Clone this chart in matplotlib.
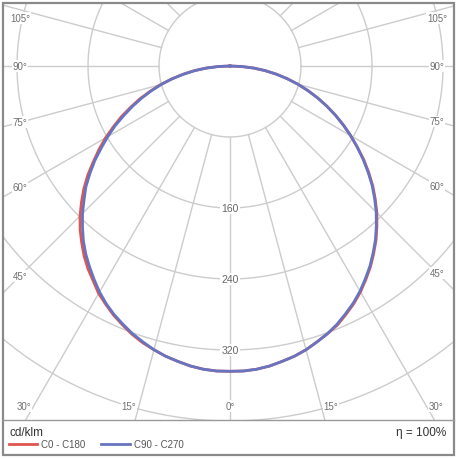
import numpy as np
import matplotlib
matplotlib.use("Agg")
import matplotlib.pyplot as plt
from matplotlib.patches import Rectangle
from matplotlib.lines import Line2D

plt.rcParams['font.family'] = ['Liberation Sans', 'DejaVu Sans']

# luminous intensity (cd/klm) against gamma angle
gamma = [0, 2.5, 5, 7.5, 10, 12.5, 15, 17.5, 20, 22.5, 25, 27.5, 30, 32.5, 35, 37.5, 40, 42.5, 45,
         47.5, 50, 52.5, 55, 57.5, 60, 62.5, 65, 67.5, 70, 72.5, 75, 77.5, 80, 82.5, 85, 87.5, 90]
i_c0 = [344, 344, 343, 341, 338, 335, 331, 326, 321, 316, 309, 302, 294, 285, 276, 266, 256, 245, 234,
        222, 210, 197, 184, 170, 157, 144, 131, 118, 105, 92, 79, 66, 53, 40, 27, 13, 0]
i_c180 = [344, 344, 343, 341, 338, 335, 331, 327, 322, 316, 310, 303, 296, 287, 279, 270, 260, 250, 239,
          227, 215, 202, 188, 175, 162, 148, 135, 121, 108, 94, 81, 67, 54, 41, 27, 13, 0]
i_c90 = [344, 344, 343, 341, 338, 335, 331, 326, 321, 315, 308, 301, 293, 284, 275, 265, 255, 244, 233,
         221, 209, 196, 183, 170, 157, 144, 131, 118, 105, 92, 79, 66, 53, 40, 27, 13, 0]
i_c270 = [344, 344, 343, 341, 338, 335, 331, 326, 321, 315, 309, 302, 294, 285, 276, 267, 257, 246, 235,
          223, 212, 199, 186, 172, 159, 146, 132, 119, 106, 93, 80, 67, 53, 40, 27, 13, 0]

rings = [80, 160, 240, 320, 400, 480]
ring_labels = [160, 240, 320]
angle_left = [105, 90, 75, 60, 45, 30, 15, 0]
angle_right = [15, 30, 45, 60, 75, 90, 105]
series_names = ['C0 - C180', 'C90 - C270']
colors = ['#e0564f', '#6674c2']
eta = 'η = 100%'
unit = 'cd/klm'

W = 460
fig = plt.figure(figsize=(4.6, 4.6), dpi=100)
# plot box in pixels: x 3..454, y 4..421 (from top)
ax = fig.add_axes([3 / W, (W - 421) / W, 451 / W, 417 / W])
scale = 0.8875  # px per cd/klm
ax.set_xlim(-227 / scale, 224 / scale)
ax.set_ylim(-354 / scale, 63 / scale)
ax.axis('off')

grid_c = '#cccccc'
t = np.linspace(0, 2 * np.pi, 400)
for r in rings:
    ax.plot(r * np.cos(t), r * np.sin(t), color=grid_c, lw=1, zorder=1)
for a in range(0, 360, 15):
    ar = np.radians(a)
    ax.plot([80 * np.sin(ar), 700 * np.sin(ar)], [-80 * np.cos(ar), -700 * np.cos(ar)],
            color=grid_c, lw=1, zorder=1)


def curve(left, right):
    g = np.radians(gamma)
    il = np.array(left)
    ir = np.array(right)
    x = np.concatenate([(-il * np.sin(g))[::-1], ir * np.sin(g)])
    y = np.concatenate([(-il * np.cos(g))[::-1], -ir * np.cos(g)])
    return x, y


x1, y1 = curve(i_c180, i_c0)
x2, y2 = curve(i_c270, i_c90)
ax.plot(x1, y1, color=colors[0], lw=2, zorder=3, solid_joinstyle='round')
ax.plot(x2, y2, color=colors[1], lw=2, zorder=4, solid_joinstyle='round')

bb = dict(facecolor='white', edgecolor='none', pad=0.6)
txt_c = '#707070'
for r in ring_labels:
    ax.text(0, -r, str(r), ha='center', va='center', fontsize=7.5, color='#666666', bbox=bb, zorder=5)

x0, x1l = ax.get_xlim()
y0, y1l = ax.get_ylim()
mx = 17 / scale
my_bot = 14 / scale
my_top = 15 / scale


def label_pos(a, side):
    ar = np.radians(a)
    sx = np.sin(ar)
    cy = -np.cos(ar)
    # bottom row for small angles, side column otherwise
    yb = y0 + my_bot
    if a <= 30:
        y = yb
        x = side * ((-y) * np.tan(ar) + (10 / scale if a > 0 else 0))
        lim = (x1l - mx) if side > 0 else (x0 + mx)
        x = min(x, lim) if side > 0 else max(x, lim)
    else:
        x = (x1l - mx) if side > 0 else (x0 + mx)
        y = abs(x) / sx * cy
        y = min(y, y1l - my_top)
    return x, y


for a in angle_left:
    x, y = label_pos(a, -1)
    ax.text(x, y, f'{a}°', ha='center', va='center', fontsize=7, color=txt_c, bbox=bb, zorder=5)
for a in angle_right:
    x, y = label_pos(a, 1)
    ax.text(x, y, f'{a}°', ha='center', va='center', fontsize=7, color=txt_c, bbox=bb, zorder=5)

# frame and legend area
fig.add_artist(Rectangle((3 / W, (W - 456) / W), 451 / W, 452 / W, transform=fig.transFigure,
                         fill=False, edgecolor='#8a8a8a', lw=1.6))
fig.add_artist(Line2D([3 / W, 454 / W], [(W - 421) / W] * 2, transform=fig.transFigure,
                      color='#9a9a9a', lw=1))

fig.text(9 / W, (W - 433) / W, unit, fontsize=8.5, color='#333333', va='center', ha='left')
fig.text(446 / W, (W - 433) / W, eta, fontsize=8.5, color='#333333', va='center', ha='right')
leg_x = [(9, 37, 41), (101, 130, 134)]
for (xa, xb, xt), name, c in zip(leg_x, series_names, colors):
    fig.add_artist(Line2D([xa / W, xb / W], [(W - 445) / W] * 2, transform=fig.transFigure,
                          color=c, lw=2))
    fig.text(xt / W, (W - 445) / W, name, fontsize=7, color='#555555', va='center', ha='left')

fig.savefig('out.png', dpi=100)
